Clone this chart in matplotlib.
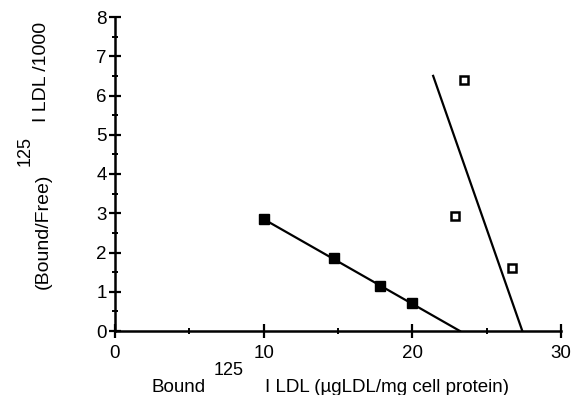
import matplotlib
matplotlib.use('Agg')
import matplotlib.pyplot as plt
from matplotlib.ticker import MultipleLocator

plt.rcParams['font.family'] = ['Liberation Sans', 'DejaVu Sans']

# Scatchard data
filled_x = [10.0, 14.7, 17.8, 20.0]
filled_y = [2.85, 1.86, 1.15, 0.71]
filled_fit_x = [10.0, 23.2]
filled_fit_y = [2.85, 0.0]

open_x = [23.5, 22.9, 26.7]
open_y = [6.39, 2.93, 1.60]
open_fit_x = [21.4, 27.4]
open_fit_y = [6.5, 0.0]

x_ticks = [0, 10, 20, 30]
y_ticks = list(range(0, 9))

W, H = 574, 395
fig = plt.figure(figsize=(W / 100, H / 100), dpi=100)
ax = fig.add_axes([115 / W, 1 - 331 / H, (561 - 115) / W, (331 - 17) / H])

ax.plot(filled_fit_x, filled_fit_y, color='black', lw=1.6, zorder=2)
ax.plot(filled_x, filled_y, 's', color='black', ms=7, zorder=3)
ax.plot(open_fit_x, open_fit_y, color='black', lw=1.6, zorder=2)
ax.plot(open_x, open_y, 's', mfc='white', mec='black', mew=1.8, ms=6, zorder=3)

ax.set_xlim(0, 30)
ax.set_ylim(0, 8)
ax.set_xticks(x_ticks)
ax.set_yticks(y_ticks)
ax.xaxis.set_minor_locator(MultipleLocator(5))
ax.yaxis.set_minor_locator(MultipleLocator(0.5))

for s in ['top', 'right']:
    ax.spines[s].set_visible(False)
for s in ['left', 'bottom']:
    ax.spines[s].set_linewidth(1.8)

ax.tick_params(axis='x', which='major', direction='inout', length=10, width=1.6,
               labelsize=13.5, pad=5)
ax.tick_params(axis='x', which='minor', direction='inout', length=5, width=1.4)
ax.tick_params(axis='y', which='major', direction='inout', length=9, width=1.6,
               labelsize=13.5, pad=1.5)
ax.tick_params(axis='y', which='minor', direction='inout', length=5, width=1.4)


def px(x, y):
    return x / W, 1 - y / H


# x-axis label pieces
fig.text(*px(179, 392), 'Bound', fontsize=13.5, ha='center', va='baseline')
fig.text(*px(229, 375), '125', fontsize=13, ha='center', va='baseline')
fig.text(*px(265, 392), 'I LDL (\u00b5gLDL/mg cell protein)', fontsize=13.5,
         ha='left', va='baseline')

# y-axis label pieces
fig.text(*px(43, 231), '(Bound/Free)', fontsize=14, rotation=90,
         ha='center', va='center')
fig.text(*px(25, 151), '125', fontsize=13, rotation=90, ha='center', va='center')
fig.text(*px(42, 122), 'I LDL /1000', fontsize=14, rotation=90,
         ha='center', va='bottom')

fig.savefig('out.png', dpi=100)
